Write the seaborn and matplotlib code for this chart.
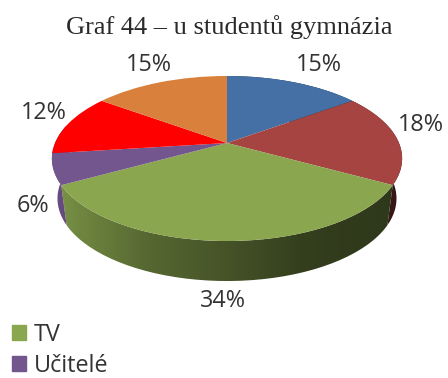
import numpy as np
import matplotlib
matplotlib.use("Agg")
import matplotlib.pyplot as plt
from matplotlib.path import Path
from matplotlib.patches import PathPatch, Patch
from matplotlib.transforms import Transform
import seaborn as sns

# data
title = "Graf 44 – u studentů gymnázia"
values = [15, 18, 34, 6, 12, 15]
legend_names = ["", "", "TV", "Učitelé", "", ""]
colors = ["#4470A5", "#A64442", "#8AA64F", "#74568F", "#FF0000", "#D8803C"]
label_xy = [(319, 65), (421, 125), (223, 301), (33, 206), (44, 113), (149, 65)]

# geometry of the tilted disc (pixels)
CX, CY, A, B, K = 227.0, 143.0, 172.0, 79.6, 0.188
DEPTH = 40.0
BOTTOM_SCALE = 0.968


class Tilt(Transform):
    input_dims = output_dims = 2
    is_separable = False
    has_inverse = False

    def __init__(self, dy=0.0, sx=1.0):
        super().__init__()
        self.dy, self.sx = dy, sx

    def transform_non_affine(self, xy):
        xy = np.asarray(xy, float)
        u, v = xy[:, 0], xy[:, 1]
        w = 1 + K * v
        return np.column_stack((CX + self.sx * A * u / w, CY + self.dy - B * v / w))


sns.set_theme(style="white")
plt.rcParams["font.family"] = ["Open Sans", "DejaVu Sans"]
palette = sns.color_palette(colors)

fig = plt.figure(figsize=(4.48, 3.78), dpi=100, facecolor="white")
ax = fig.add_axes([0, 0, 1, 1])

wedges, _ = ax.pie(values, colors=palette, startangle=90, counterclock=False,
                   wedgeprops={"linewidth": 0})
top, bottom = Tilt(), Tilt(DEPTH, BOTTOM_SCALE)
for w in wedges:
    w.set_transform(top + ax.transData)
    w.set_zorder(5)

# shaded side wall: brightness falls off from left to right
xs = np.arange(0, 448)
shade = np.interp(xs, [50, 75, 150, 227, 300, 402], [0.92, 0.82, 0.62, 0.50, 0.38, 0.33])
for w, col in zip(wedges, palette):
    mid = np.radians((w.theta1 + w.theta2) / 2)
    # slices on the back left have no visible wall
    if np.cos(mid) < 0 and np.sin(mid) > 0:
        continue
    # the slice ending near the left edge wraps round to the silhouette
    wraps = np.cos(mid) < -0.5
    start = w.theta1 - 20 if wraps else w.theta1
    t = np.radians(np.linspace(start, w.theta2, 80))
    arc = np.column_stack((np.cos(t), np.sin(t)))
    poly = np.vstack((top.transform(arc), bottom.transform(arc)[::-1]))
    clip = PathPatch(Path(poly), transform=ax.transData, fc="none", ec="none")
    ax.add_patch(clip)
    img = np.clip(shade[None, :, None] * np.array(col)[None, None, :], 0, 1)
    im = ax.imshow(img, extent=(0, 448, 378, 0), aspect="auto", zorder=2)
    im.set_clip_path(clip)

ax.set_aspect("auto")
ax.set_xlim(0, 448)
ax.set_ylim(378, 0)
ax.axis("off")

ax.text(229, 27, title, family="Liberation Serif", fontsize=19, color="#2a2a2a",
        ha="center", va="center")
for v, (x, y) in zip(values, label_xy):
    ax.text(x, y, f"{v}%", fontsize=16.8, color="#333333", ha="center", va="center")

handles = [w for w, n in zip(wedges, legend_names) if n]
names = [n for n in legend_names if n]
ax.legend([Patch(color=h.get_facecolor()) for h in handles], names,
          loc="lower left", bbox_to_anchor=(12 / 448, 0.0), frameon=False,
          fontsize=16.8, handlelength=0.6, handleheight=0.6, handletextpad=0.35,
          labelspacing=0.3, labelcolor="#333333", borderpad=0.0, borderaxespad=0.0)

fig.savefig("out.png", dpi=100, facecolor="white")
